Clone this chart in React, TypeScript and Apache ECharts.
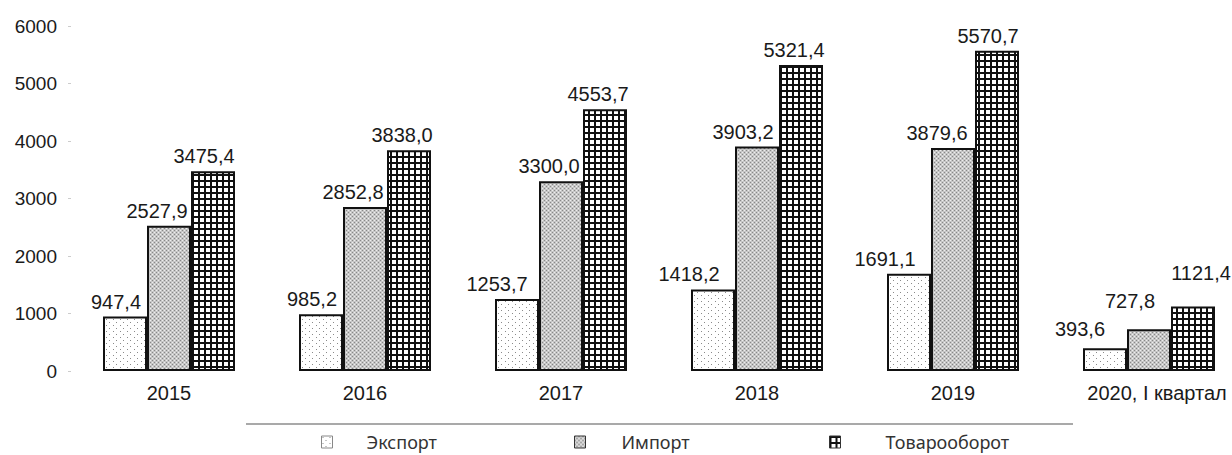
import React, { useEffect, useRef } from "react";
import * as echarts from "echarts";

const categories = ["2015", "2016", "2017", "2018", "2019", "2020, I квартал"];
const exportValues = [947.4, 985.2, 1253.7, 1418.2, 1691.1, 393.6];
const importValues = [2527.9, 2852.8, 3300.0, 3903.2, 3879.6, 727.8];
const turnoverValues = [3475.4, 3838.0, 4553.7, 5321.4, 5570.7, 1121.4];
const seriesNames = ["Экспорт", "Импорт", "Товарооборот"];
const yMin = 0;
const yMax = 6000;
const yStep = 1000;

function makePattern(w: number, h: number, draw: (ctx: CanvasRenderingContext2D) => void) {
  const c = document.createElement("canvas");
  c.width = w;
  c.height = h;
  const ctx = c.getContext("2d") as CanvasRenderingContext2D;
  draw(ctx);
  return { image: c, repeat: "repeat" } as any;
}

export default function App() {
  const ref = useRef<HTMLDivElement>(null);

  useEffect(() => {
    if (!ref.current) return;
    const chart = echarts.init(ref.current, undefined, { renderer: "svg" });

    const exportPattern = makePattern(7, 6, (ctx) => {
      ctx.fillStyle = "#ffffff";
      ctx.fillRect(0, 0, 7, 6);
      ctx.fillStyle = "#8a8a8a";
      ctx.fillRect(1, 1, 1, 1);
      ctx.fillRect(4, 4, 1, 1);
    });
    const importPattern = makePattern(4, 4, (ctx) => {
      ctx.fillStyle = "#c6c6c6";
      ctx.fillRect(0, 0, 4, 4);
      ctx.fillStyle = "#888888";
      ctx.fillRect(0, 0, 1, 1);
      ctx.fillRect(2, 2, 1, 1);
      ctx.fillStyle = "#eeeeee";
      ctx.fillRect(2, 0, 1, 1);
      ctx.fillRect(0, 2, 1, 1);
    });
    const turnoverPattern = makePattern(6, 6, (ctx) => {
      ctx.fillStyle = "#111111";
      ctx.fillRect(0, 0, 6, 6);
      ctx.fillStyle = "#ffffff";
      ctx.fillRect(2, 2, 4, 4);
    });

    const fmt = (p: any) => Number(p.value).toFixed(1).replace(".", ",");
    const numFont = "'Liberation Sans', Arial, sans-serif";
    const legendFont = "'Noto Sans', sans-serif";

    const labelCfg = {
      show: true,
      position: "top",
      distance: 5,
      offset: [-9, 0],
      formatter: fmt,
      color: "#1a1a1a",
      fontFamily: numFont,
      fontSize: 20,
    };

    const patterns = [exportPattern, importPattern, turnoverPattern];
    const values = [exportValues, importValues, turnoverValues];
    // per-label placement offsets (styling only)
    const labelOffsets = [
      [[-9, 0], [-9, 0], [-20, 0], [-24, 0], [-24, 0], [-25, -4]],
      [[-12, 0], [-12, 0], [-12, 0], [-14, 0], [-16, 0], [-19, -13]],
      [[-9, 0], [-7, 0], [-7, 0], [-7, 0], [-9, 0], [8, -19]],
    ];

    const legendLeft = [316, 569, 824];
    const legendPad = [29, 31, 40];

    const xData = categories.map((c, i) =>
      i === categories.length - 1
        ? { value: c, textStyle: { padding: [0, 0, 0, 16] } }
        : c
    );

    chart.setOption({
      animation: false,
      backgroundColor: "#ffffff",
      grid: { left: 71, top: 26, width: 1176, height: 345, containLabel: false },
      xAxis: {
        type: "category",
        data: xData,
        axisLine: { show: false },
        axisTick: { show: false },
        axisLabel: {
          margin: 12,
          color: "#1a1a1a",
          fontFamily: numFont,
          fontSize: 20,
        },
      },
      yAxis: {
        type: "value",
        min: yMin,
        max: yMax,
        interval: yStep,
        splitLine: { show: false },
        axisLine: { show: false },
        axisTick: { show: true, length: 3, lineStyle: { color: "#cccccc" } },
        axisLabel: {
          margin: 14,
          color: "#1a1a1a",
          fontFamily: numFont,
          fontSize: 19,
          formatter: (v: number) => String(v),
        },
      },
      legend: seriesNames.map((name, i) => ({
        data: [name],
        left: legendLeft[i],
        top: 428,
        icon: "rect",
        itemWidth: 11,
        itemHeight: 12,
        itemStyle: { borderWidth: 1, borderColor: i === 0 ? "#888" : "#333" },
        selectedMode: false,
        textStyle: {
          fontFamily: legendFont,
          fontSize: 18,
          color: "#333333",
          padding: [0, 0, 0, legendPad[i]],
        },
      })),
      graphic: [
        {
          type: "line",
          shape: { x1: 246, y1: 424, x2: 1073, y2: 424 },
          style: { stroke: "#555555", lineWidth: 1.2 },
        },
      ],
      series: seriesNames.map((name, i) => ({
        name,
        type: "bar",
        data: values[i].map((v, j) => ({ value: v, label: { offset: labelOffsets[i][j] } })),
        barWidth: 44,
        barGap: "0%",
        itemStyle: {
          color: patterns[i],
          borderColor: "#111111",
          borderWidth: 2,
        },
        label: labelCfg,
      })),
    } as any);

    return () => chart.dispose();
  }, []);

  return (
    <div
      style={{
        position: "fixed",
        left: 0,
        top: 0,
        width: 1232,
        height: 455,
        overflow: "hidden",
        background: "#ffffff",
      }}
    >
      <div ref={ref} style={{ width: 1262, height: 455 }} />
    </div>
  );
}
